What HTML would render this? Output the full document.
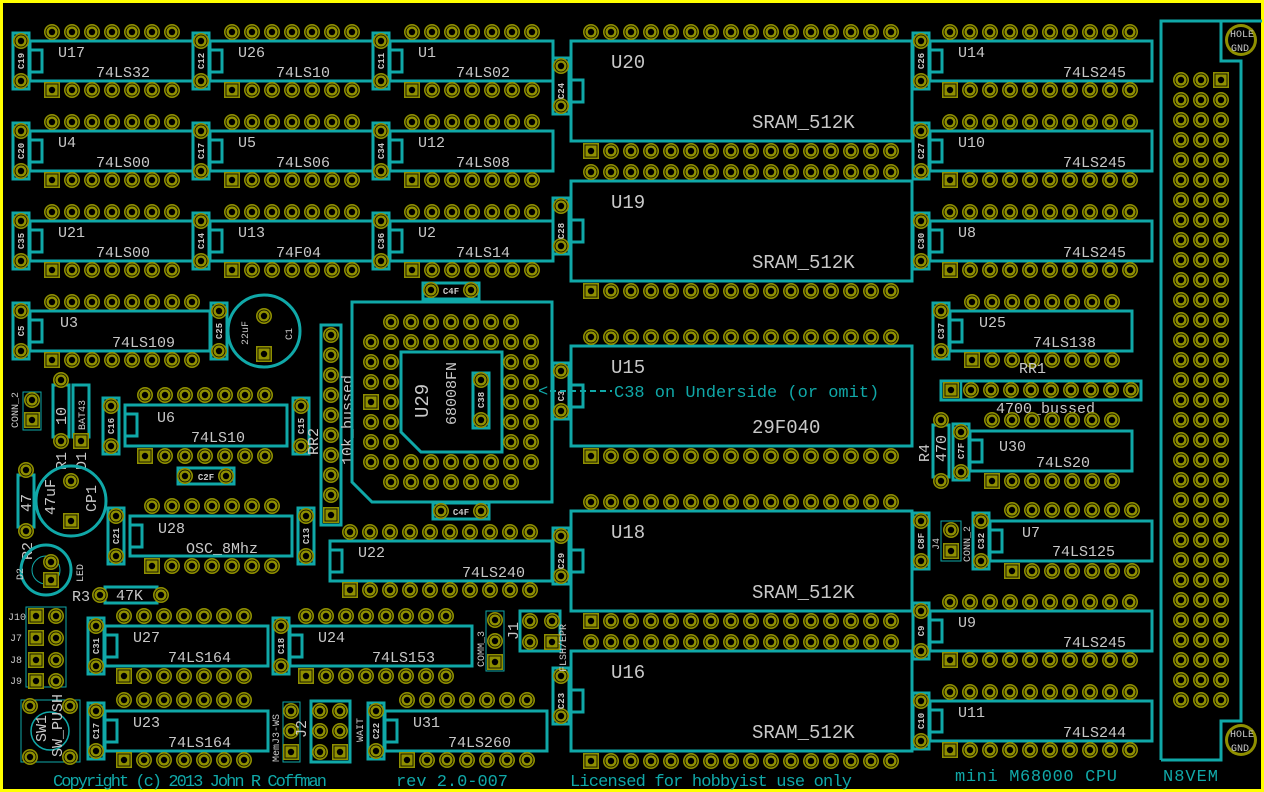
<!DOCTYPE html>
<html><head><meta charset="utf-8"><style>
html,body{margin:0;padding:0;background:#000;width:1264px;height:792px;overflow:hidden}
svg{display:block}
.o{fill:none;stroke:#10a8a8;stroke-width:3}
.t{fill:#c8c8c8;font-family:"Liberation Mono",monospace;font-size:15px}
.b{fill:#c8c8c8;font-family:"Liberation Mono",monospace;font-size:19px}
.c{fill:#c8c8c8;font-family:"Liberation Mono",monospace;font-size:9px;text-anchor:middle;font-weight:bold}
.g{fill:#c8c8c8;font-family:"Liberation Mono",monospace;font-size:10px}
.k{fill:#10a8a8;font-family:"Liberation Mono",monospace;font-size:17px}
</style></head><body>
<svg width="1264" height="792" viewBox="0 0 1264 792" xmlns="http://www.w3.org/2000/svg">
<defs>
<g id="p"><circle r="8" fill="#8f8f00"/><circle r="6" fill="none" stroke="#000" stroke-width=".8"/><circle r="3.2" fill="#000"/></g>
<g id="s"><rect x="-8" y="-8" width="16" height="16" fill="#8f8f00"/><rect x="-6" y="-6" width="12" height="12" fill="none" stroke="#000" stroke-width=".8"/><circle r="3.2" fill="#000"/></g>
<g id="r2"><use href="#p"/><use href="#p" x="20"/></g>
<g id="r4"><use href="#r2"/><use href="#r2" x="40"/></g>
<g id="r7"><use href="#r4"/><use href="#r2" x="80"/><use href="#p" x="120"/></g>
<g id="r7s"><use href="#s"/><use href="#r2" x="20"/><use href="#r4" x="60"/></g>
<g id="r8"><use href="#r4"/><use href="#r4" x="80"/></g>
<g id="r8s"><use href="#s"/><use href="#p" x="20"/><use href="#r2" x="40"/><use href="#r4" x="80"/></g>
<g id="r10"><use href="#r8"/><use href="#r2" x="160"/></g>
<g id="r10s"><use href="#s"/><use href="#p" x="20"/><use href="#r8" x="40"/></g>
<g id="r16"><use href="#r8"/><use href="#r8" x="160"/></g>
<g id="r16s"><use href="#r8s"/><use href="#r8" x="160"/></g>
<g id="cap"><rect x="-8" y="0" width="16" height="56" class="o" stroke-width="2.5"/><use href="#p" y="8"/><use href="#p" y="48"/></g>
<g id="d14"><rect width="163" height="40" class="o"/><rect y="9" width="12" height="22" class="o"/><use href="#r7" x="22" y="-9"/><use href="#r7s" x="22" y="49"/><use href="#cap" x="-9" y="-8"/></g>
<g id="d16"><rect width="180" height="40" class="o"/><rect y="9" width="12" height="22" class="o"/><use href="#r8" x="22" y="-9"/><use href="#r8s" x="22" y="49"/><use href="#cap" x="-9" y="-8"/></g>
<g id="d20"><rect width="222" height="40" class="o"/><rect y="9" width="12" height="22" class="o"/><use href="#r10" x="20" y="-9"/><use href="#r10s" x="20" y="49"/><use href="#cap" x="-9" y="-8"/></g>
<g id="sram"><rect width="341" height="100" class="o"/><rect y="39" width="12" height="22" class="o"/><use href="#r16" x="20" y="-9"/><use href="#r16s" x="20" y="110"/><use href="#cap" x="-10" y="17"/></g>
<g id="cr"><use href="#p" x="1181"/><use href="#p" x="1201"/><use href="#p" x="1221"/></g>
</defs>
<rect x="1.5" y="1.5" width="1261" height="789" fill="none" stroke="#ffff00" stroke-width="3"/>

<!-- left rows -->
<g transform="translate(30,41)"><use href="#d14"/><text class="t" x="28" y="16">U17</text><text class="t" x="66" y="36">74LS32</text><text class="c" transform="translate(-6,20) rotate(-90)">C19</text></g>
<g transform="translate(210,41)"><use href="#d14"/><text class="t" x="28" y="16">U26</text><text class="t" x="66" y="36">74LS10</text><text class="c" transform="translate(-6,20) rotate(-90)">C12</text></g>
<g transform="translate(390,41)"><use href="#d14"/><text class="t" x="28" y="16">U1</text><text class="t" x="66" y="36">74LS02</text><text class="c" transform="translate(-6,20) rotate(-90)">C11</text></g>
<g transform="translate(30,131)"><use href="#d14"/><text class="t" x="28" y="16">U4</text><text class="t" x="66" y="36">74LS00</text><text class="c" transform="translate(-6,20) rotate(-90)">C20</text></g>
<g transform="translate(210,131)"><use href="#d14"/><text class="t" x="28" y="16">U5</text><text class="t" x="66" y="36">74LS06</text><text class="c" transform="translate(-6,20) rotate(-90)">C17</text></g>
<g transform="translate(390,131)"><use href="#d14"/><text class="t" x="28" y="16">U12</text><text class="t" x="66" y="36">74LS08</text><text class="c" transform="translate(-6,20) rotate(-90)">C34</text></g>
<g transform="translate(30,221)"><use href="#d14"/><text class="t" x="28" y="16">U21</text><text class="t" x="66" y="36">74LS00</text><text class="c" transform="translate(-6,20) rotate(-90)">C35</text></g>
<g transform="translate(210,221)"><use href="#d14"/><text class="t" x="28" y="16">U13</text><text class="t" x="66" y="36">74F04</text><text class="c" transform="translate(-6,20) rotate(-90)">C14</text></g>
<g transform="translate(390,221)"><use href="#d14"/><text class="t" x="28" y="16">U2</text><text class="t" x="66" y="36">74LS14</text><text class="c" transform="translate(-6,20) rotate(-90)">C36</text></g>
<g transform="translate(30,311)"><use href="#d16"/><text class="t" x="30" y="16">U3</text><text class="t" x="82" y="36">74LS109</text><text class="c" transform="translate(-6,20) rotate(-90)">C5</text><use href="#cap" x="189" y="-8"/><text class="c" transform="translate(192,20) rotate(-90)">C25</text></g>

<!-- C1 22uF -->
<circle cx="264" cy="331" r="36" class="o" stroke-width="2.5"/><use href="#p" x="264" y="316"/><use href="#s" x="264" y="354"/>
<text class="g" transform="translate(248,345) rotate(-90)" font-size="12">22uF</text><text class="g" transform="translate(292,340) rotate(-90)" font-size="12">C1</text>

<!-- small left parts -->
<rect x="23" y="392" width="18" height="38" fill="none" stroke="#10a8a8" stroke-width="1"/><use href="#p" x="32" y="400"/><use href="#s" x="32" y="420"/>
<text class="g" transform="translate(18,428) rotate(-90)" font-size="9">CONN_2</text>
<rect x="53" y="385" width="16" height="52" class="o" stroke-width="2"/><use href="#p" x="61" y="380"/><use href="#p" x="61" y="441"/><text class="t" transform="translate(66,425) rotate(-90)">10</text>
<rect x="73" y="385" width="16" height="52" class="o" stroke-width="2"/><use href="#s" x="81" y="441"/><text class="g" transform="translate(85,430) rotate(-90)" font-size="12">BAT43</text>
<text class="t" transform="translate(66,470) rotate(-90)">R1</text><text class="t" transform="translate(86,470) rotate(-90)">D1</text>
<g transform="translate(111,398)"><use href="#cap"/><text class="c" transform="translate(3,28) rotate(-90)">C16</text></g>
<g transform="translate(125,405)"><rect width="162" height="41" class="o"/><rect y="9" width="12" height="22" class="o"/><use href="#r7" x="20" y="-10"/><use href="#r7s" x="20" y="51"/><text class="t" x="32" y="17">U6</text><text class="t" x="66" y="37">74LS10</text></g>
<g transform="translate(301,398)"><use href="#cap"/><text class="c" transform="translate(3,28) rotate(-90)">C15</text></g>
<text class="t" transform="translate(318,455) rotate(-90)">RR2</text>
<rect x="178" y="468" width="56" height="16" class="o" stroke-width="2"/><use href="#p" x="185" y="476"/><use href="#p" x="226" y="476"/><text class="c" x="206" y="480">C2F</text>
<circle cx="71" cy="501" r="35" class="o" stroke-width="2.5"/><use href="#p" x="71" y="481"/><use href="#s" x="71" y="521"/>
<text class="t" transform="translate(55,515) rotate(-90)">47uF</text><text class="t" transform="translate(96,512) rotate(-90)">CP1</text>
<rect x="18" y="475" width="16" height="52" class="o" stroke-width="2"/><use href="#p" x="26" y="470"/><use href="#p" x="26" y="531"/><text class="t" transform="translate(31,512) rotate(-90)">47</text>
<text class="t" transform="translate(32,560) rotate(-90)">R2</text>
<circle cx="46" cy="570" r="25" class="o" stroke-width="2"/><circle cx="46" cy="570" r="14" fill="none" stroke="#10a8a8" stroke-width="1"/><use href="#p" x="51" y="562"/><use href="#s" x="51" y="580"/>
<text class="g" transform="translate(23,580) rotate(-90)" font-size="9">D2</text><text class="g" transform="translate(83,582) rotate(-90)" font-size="9">LED</text>
<g transform="translate(116,508)"><use href="#cap"/><text class="c" transform="translate(3,28) rotate(-90)">C21</text></g>
<g transform="translate(130,516)"><rect width="162" height="40" class="o"/><rect y="9" width="12" height="22" class="o"/><use href="#r7" x="22" y="-10"/><use href="#r7s" x="22" y="50"/><text class="t" x="28" y="17">U28</text><text class="t" x="56" y="37">OSC_8Mhz</text></g>
<g transform="translate(306,508)"><use href="#cap"/><text class="c" transform="translate(3,28) rotate(-90)">C13</text></g>
<text class="t" x="72" y="601">R3</text>
<rect x="105" y="587" width="52" height="16" class="o" stroke-width="2"/><use href="#p" x="100" y="595"/><use href="#p" x="161" y="595"/><text class="t" x="116" y="600">47K</text>

<!-- RR2 -->
<rect x="321" y="325" width="20" height="200" class="o" stroke-width="2.5"/>
<use href="#p" x="331" y="335"/><use href="#p" x="331" y="355"/><use href="#p" x="331" y="375"/><use href="#p" x="331" y="395"/><use href="#p" x="331" y="415"/><use href="#p" x="331" y="435"/><use href="#p" x="331" y="455"/><use href="#p" x="331" y="475"/><use href="#p" x="331" y="495"/><use href="#s" x="331" y="515"/>
<text class="t" transform="translate(352,465) rotate(-90)">10k_bussed</text>

<!-- U29 PLCC -->
<path d="M352,302 H552 V502 H372 L352,482 Z" class="o"/>
<path d="M401,352 H502 V452 H421 L401,432 Z" class="o"/>
<use href="#r4" x="391" y="322"/><use href="#r2" x="471" y="322"/><use href="#p" x="511" y="322"/>
<use href="#r8" x="371" y="342"/><use href="#p" x="531" y="342"/>
<use href="#r8" x="371" y="462"/><use href="#p" x="531" y="462"/>
<use href="#r4" x="391" y="482"/><use href="#r2" x="471" y="482"/><use href="#p" x="511" y="482"/>
<use href="#r2" x="371" y="362"/><use href="#r2" x="511" y="362"/>
<use href="#r2" x="371" y="382"/><use href="#r2" x="511" y="382"/>
<use href="#s" x="371" y="402"/><use href="#p" x="391" y="402"/><use href="#r2" x="511" y="402"/>
<use href="#r2" x="371" y="422"/><use href="#r2" x="511" y="422"/>
<use href="#r2" x="371" y="442"/><use href="#r2" x="511" y="442"/>
<rect x="473" y="373" width="16" height="55" class="o" stroke-width="2"/><use href="#p" x="481" y="380"/><use href="#p" x="481" y="420"/><text class="c" transform="translate(484,400) rotate(-90)">C38</text>
<text class="b" transform="translate(428,418) rotate(-90)" font-size="21">U29</text>
<text class="t" transform="translate(456,425) rotate(-90)" font-size="17">68008FN</text>
<rect x="423" y="283" width="56" height="16" class="o" stroke-width="2"/><use href="#p" x="431" y="290"/><use href="#p" x="471" y="290"/><text class="c" x="451" y="294">C4F</text>
<rect x="433" y="503" width="56" height="16" class="o" stroke-width="2"/><use href="#p" x="441" y="511"/><use href="#p" x="481" y="511"/><text class="c" x="461" y="515">C4F</text>

<!-- SRAMs -->
<g transform="translate(571,41)"><use href="#sram"/><text class="b" x="40" y="27">U20</text><text class="b" x="181" y="87">SRAM_512K</text><text class="c" transform="translate(-7,50) rotate(-90)">C24</text></g>
<g transform="translate(571,181)"><use href="#sram"/><text class="b" x="40" y="27">U19</text><text class="b" x="181" y="87">SRAM_512K</text><text class="c" transform="translate(-7,50) rotate(-90)">C28</text></g>
<g transform="translate(571,346)"><use href="#sram"/><text class="b" x="40" y="27">U15</text><text class="b" x="181" y="87">29F040</text><text class="c" transform="translate(-7,50) rotate(-90)">C3</text></g>
<g transform="translate(571,511)"><use href="#sram"/><text class="b" x="40" y="27">U18</text><text class="b" x="181" y="87">SRAM_512K</text><text class="c" transform="translate(-7,50) rotate(-90)">C29</text></g>
<g transform="translate(571,651)"><use href="#sram"/><text class="b" x="40" y="27">U16</text><text class="b" x="181" y="87">SRAM_512K</text><text class="c" transform="translate(-7,50) rotate(-90)">C23</text></g>
<text class="k" x="538" y="396">&lt;</text>
<line x1="550" y1="391" x2="612" y2="391" stroke="#10a8a8" stroke-width="2" stroke-dasharray="6,4"/>
<text class="k" x="614" y="397">C38 on Underside (or omit)</text>

<!-- U22 -->
<g transform="translate(330,541)"><rect width="222" height="40" class="o"/><rect y="9" width="12" height="22" class="o"/><use href="#r10" x="20" y="-9"/><use href="#r10s" x="20" y="49"/><text class="t" x="28" y="16">U22</text><text class="t" x="132" y="36">74LS240</text></g>

<!-- right column -->
<g transform="translate(930,41)"><use href="#d20"/><text class="t" x="28" y="16">U14</text><text class="t" x="133" y="36">74LS245</text><text class="c" transform="translate(-6,20) rotate(-90)">C26</text></g>
<g transform="translate(930,131)"><use href="#d20"/><text class="t" x="28" y="16">U10</text><text class="t" x="133" y="36">74LS245</text><text class="c" transform="translate(-6,20) rotate(-90)">C27</text></g>
<g transform="translate(930,221)"><use href="#d20"/><text class="t" x="28" y="16">U8</text><text class="t" x="133" y="36">74LS245</text><text class="c" transform="translate(-6,20) rotate(-90)">C30</text></g>
<g transform="translate(950,311)"><rect width="182" height="40" class="o"/><rect y="9" width="12" height="22" class="o"/><use href="#r8" x="22" y="-9"/><use href="#r8s" x="22" y="49"/><use href="#cap" x="-9" y="-8"/><text class="t" x="29" y="16">U25</text><text class="t" x="83" y="36">74LS138</text><text class="c" transform="translate(-6,20) rotate(-90)">C37</text></g>
<text class="t" x="1019" y="373">RR1</text>
<rect x="941" y="381" width="200" height="19" class="o" stroke-width="2.5"/><line x1="961" y1="381" x2="961" y2="400" stroke="#10a8a8" stroke-width="2.5"/>
<use href="#s" x="951" y="390"/><use href="#r8" x="971" y="390"/><use href="#p" x="1131" y="390"/>
<text class="t" x="996" y="413" font-size="13">4700_bussed</text>
<rect x="933" y="425" width="16" height="52" class="o" stroke-width="2"/><use href="#p" x="941" y="420"/><use href="#p" x="941" y="481"/><text class="t" transform="translate(946,462) rotate(-90)">470</text>
<text class="t" transform="translate(929,462) rotate(-90)">R4</text>
<g transform="translate(970,431)"><rect width="162" height="40" class="o"/><rect y="9" width="12" height="22" class="o"/><use href="#r7" x="22" y="-11"/><use href="#r7s" x="22" y="50"/><use href="#cap" x="-9" y="-7"/><text class="t" x="29" y="20">U30</text><text class="t" x="66" y="36">74LS20</text><text class="c" transform="translate(-6,20) rotate(-90)">C7F</text></g>
<g transform="translate(921,513)"><use href="#cap"/><text class="c" transform="translate(3,28) rotate(-90)">C8F</text></g>
<rect x="941" y="521" width="20" height="40" fill="none" stroke="#10a8a8" stroke-width="1"/><use href="#p" x="951" y="530"/><use href="#s" x="951" y="551"/>
<text class="g" transform="translate(939,550) rotate(-90)" font-size="9">J4</text><text class="g" transform="translate(970,562) rotate(-90)" font-size="9">CONN_2</text>
<g transform="translate(990,521)"><rect width="162" height="40" class="o"/><rect y="9" width="12" height="22" class="o"/><use href="#r7" x="22" y="-11"/><use href="#r7s" x="22" y="50"/><use href="#cap" x="-9" y="-8"/><text class="t" x="32" y="16">U7</text><text class="t" x="62" y="35">74LS125</text><text class="c" transform="translate(-6,20) rotate(-90)">C32</text></g>
<g transform="translate(930,611)"><use href="#d20"/><text class="t" x="28" y="16">U9</text><text class="t" x="133" y="36">74LS245</text><text class="c" transform="translate(-6,20) rotate(-90)">C9</text></g>
<g transform="translate(930,701)"><use href="#d20"/><text class="t" x="28" y="16">U11</text><text class="t" x="133" y="36">74LS244</text><text class="c" transform="translate(-6,20) rotate(-90)">C10</text></g>

<!-- N8VEM connector -->
<path d="M1161,760 V21 H1262 M1221,21 V61 H1241 V721 H1221 V760 H1161" class="o"/>
<use href="#p" x="1181" y="80"/><use href="#p" x="1201" y="80"/><use href="#s" x="1221" y="80"/>
<use href="#cr" y="100"/><use href="#cr" y="120"/><use href="#cr" y="140"/><use href="#cr" y="160"/><use href="#cr" y="180"/><use href="#cr" y="200"/><use href="#cr" y="220"/><use href="#cr" y="240"/><use href="#cr" y="260"/><use href="#cr" y="280"/><use href="#cr" y="300"/><use href="#cr" y="320"/><use href="#cr" y="340"/><use href="#cr" y="360"/><use href="#cr" y="380"/><use href="#cr" y="400"/><use href="#cr" y="420"/><use href="#cr" y="440"/><use href="#cr" y="460"/><use href="#cr" y="480"/><use href="#cr" y="500"/><use href="#cr" y="520"/><use href="#cr" y="540"/><use href="#cr" y="560"/><use href="#cr" y="580"/><use href="#cr" y="600"/><use href="#cr" y="620"/><use href="#cr" y="640"/><use href="#cr" y="660"/><use href="#cr" y="680"/><use href="#cr" y="700"/>
<circle cx="1241" cy="40" r="16" fill="#8f8f00"/><circle cx="1241" cy="40" r="13" fill="#000"/>
<text class="g" x="1230" y="37" font-size="8" fill="#fff">HOLE</text><text class="g" x="1231" y="51" font-size="10" fill="#fff">GND</text>
<circle cx="1241" cy="740" r="16" fill="#8f8f00"/><circle cx="1241" cy="740" r="13" fill="#000"/>
<text class="g" x="1230" y="737" font-size="8" fill="#fff">HOLE</text><text class="g" x="1231" y="751" font-size="10" fill="#fff">GND</text>

<!-- bottom left -->
<rect x="26" y="607" width="40" height="80" fill="none" stroke="#10a8a8" stroke-width="1"/>
<use href="#s" x="36" y="616"/><use href="#p" x="56" y="616"/><use href="#s" x="36" y="638"/><use href="#p" x="56" y="638"/>
<use href="#s" x="36" y="660"/><use href="#p" x="56" y="660"/><use href="#s" x="36" y="681"/><use href="#p" x="56" y="681"/>
<text class="g" x="8" y="620" font-size="9">J10</text><text class="g" x="10" y="641" font-size="9">J7</text><text class="g" x="10" y="663" font-size="9">J8</text><text class="g" x="10" y="684" font-size="9">J9</text>
<g transform="translate(105,626)"><rect width="163" height="40" class="o"/><rect y="9" width="12" height="22" class="o"/><use href="#r7" x="19" y="-10"/><use href="#r7s" x="19" y="50"/><use href="#cap" x="-9" y="-8"/><text class="t" x="28" y="16">U27</text><text class="t" x="63" y="36">74LS164</text><text class="c" transform="translate(-6,20) rotate(-90)">C31</text></g>
<g transform="translate(290,626)"><rect width="182" height="40" class="o"/><rect y="9" width="12" height="22" class="o"/><use href="#r8" x="16" y="-10"/><use href="#r8s" x="16" y="50"/><use href="#cap" x="-9" y="-8"/><text class="t" x="28" y="16">U24</text><text class="t" x="82" y="36">74LS153</text><text class="c" transform="translate(-6,20) rotate(-90)">C18</text></g>
<rect x="486" y="611" width="18" height="60" fill="none" stroke="#10a8a8" stroke-width="1"/><use href="#p" x="495" y="620"/><use href="#p" x="495" y="641"/><use href="#s" x="495" y="662"/>
<text class="g" transform="translate(484,667) rotate(-90)" font-size="9">COMM_3</text><text class="t" transform="translate(518,640) rotate(-90)" font-size="12">J1</text>
<rect x="520" y="611" width="40" height="40" class="o" stroke-width="2"/><use href="#p" x="530" y="621"/><use href="#p" x="552" y="621"/><use href="#p" x="530" y="642"/><use href="#s" x="552" y="642"/>
<text class="g" transform="translate(566,672) rotate(-90)" font-size="9">FLSH/EPR</text>
<rect x="21" y="700" width="59" height="62" fill="none" stroke="#10a8a8" stroke-width="1"/><circle cx="50" cy="731" r="19" fill="none" stroke="#10a8a8" stroke-width="1.5"/>
<use href="#p" x="30" y="706"/><use href="#p" x="70" y="706"/><use href="#p" x="30" y="757"/><use href="#p" x="70" y="757"/>
<text class="t" transform="translate(46,742) rotate(-90)" font-size="11">SW1</text><text class="t" transform="translate(62,757) rotate(-90)" font-size="11">SW_PUSH</text>
<g transform="translate(105,711)"><rect width="163" height="40" class="o"/><rect y="9" width="12" height="22" class="o"/><use href="#r7" x="19" y="-11"/><use href="#r7s" x="19" y="49"/><use href="#cap" x="-9" y="-8"/><text class="t" x="28" y="16">U23</text><text class="t" x="63" y="36">74LS164</text><text class="c" transform="translate(-6,20) rotate(-90)">C17</text></g>
<rect x="283" y="702" width="17" height="60" fill="none" stroke="#10a8a8" stroke-width="1"/><use href="#p" x="291" y="711"/><use href="#p" x="291" y="731"/><use href="#s" x="291" y="752"/>
<text class="g" transform="translate(279,762) rotate(-90)" font-size="9">MemJ3-WS</text><text class="t" transform="translate(306,738) rotate(-90)" font-size="12">J2</text>
<rect x="311" y="701" width="39" height="61" class="o" stroke-width="2"/><use href="#p" x="320" y="711"/><use href="#p" x="340" y="711"/><use href="#p" x="320" y="731"/><use href="#p" x="340" y="731"/><use href="#p" x="320" y="752"/><use href="#s" x="340" y="752"/>
<text class="g" transform="translate(363,742) rotate(-90)" font-size="9">WAIT</text>
<g transform="translate(385,711)"><rect width="162" height="40" class="o"/><rect y="9" width="12" height="22" class="o"/><use href="#r7" x="22" y="-11"/><use href="#r7s" x="22" y="49"/><use href="#cap" x="-9" y="-8"/><text class="t" x="28" y="16">U31</text><text class="t" x="63" y="36">74LS260</text><text class="c" transform="translate(-6,20) rotate(-90)">C22</text></g>

<!-- footer -->
<text class="k" x="53" y="786" textLength="274">Copyright (c) 2013 John R Coffman</text>
<text class="k" x="396" y="786" textLength="112">rev 2.0-007</text>
<text class="k" x="570" y="786" textLength="282">Licensed for hobbyist use only</text>
<text class="k" x="955" y="781" textLength="162">mini M68000 CPU</text>
<text class="k" x="1163" y="781" textLength="55">N8VEM</text>
</svg>
</body></html>
